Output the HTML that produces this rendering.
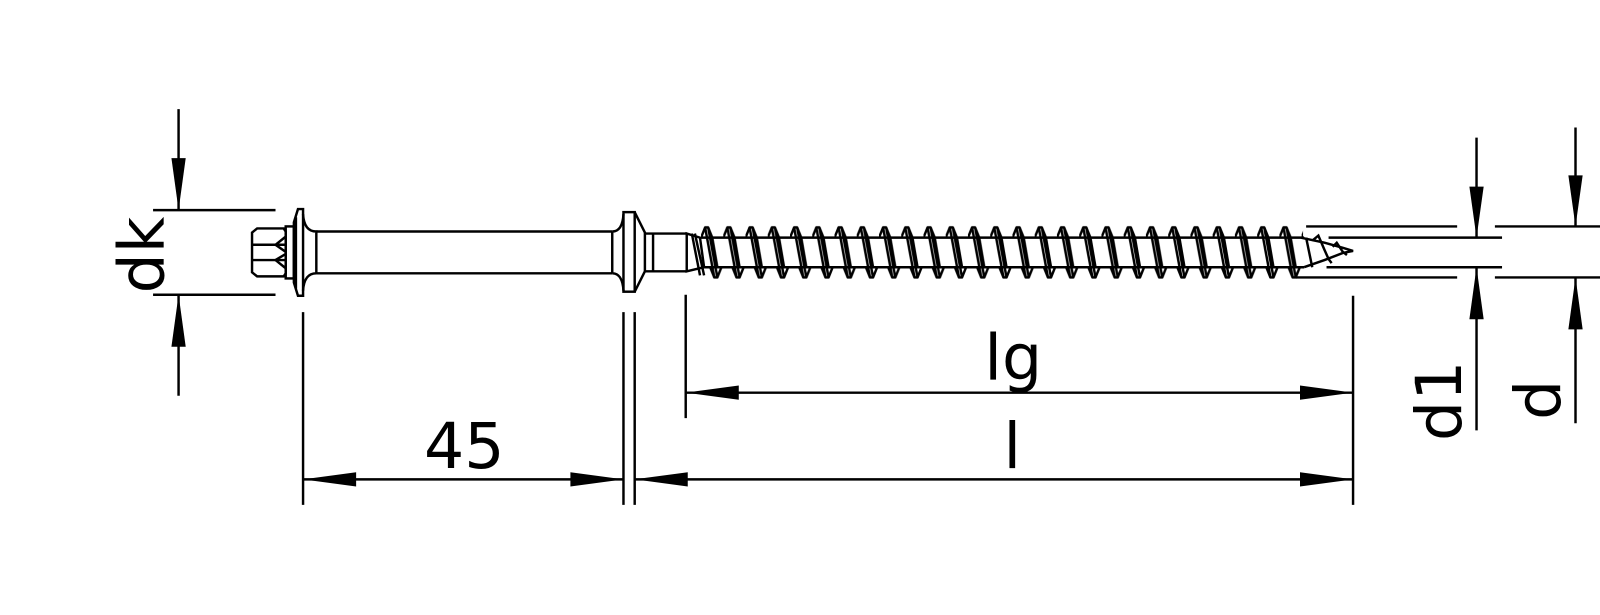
<!DOCTYPE html>
<html><head><meta charset="utf-8"><style>
html,body{margin:0;padding:0;background:#fff;width:1600px;height:615px;overflow:hidden;}
svg{display:block;position:absolute;left:0;top:0;}
text{font-family:"DejaVu Sans","Liberation Sans",sans-serif;fill:#000;}
</style></head><body>
<svg width="1600" height="615" viewBox="0 0 1568 603" preserveAspectRatio="none" xmlns="http://www.w3.org/2000/svg">
<defs>
<pattern id="thr" x="687" y="0" width="21.8" height="615" patternUnits="userSpaceOnUse">
<g fill="none" stroke="#000" stroke-width="2.4" stroke-linejoin="round">
<path d="M0,233 L4,223 L7,223 L11,233"/>
<path d="M9,262 L13,272 L16,272 L20,262"/>
<path d="M4,223 L13,272"/>
<path d="M7,223 L16,272"/>
<path d="M11,233 L16,262"/>
</g>
</pattern>
</defs>
<g stroke="#000" stroke-width="2.4" fill="none">
<line x1="150" y1="206" x2="270" y2="206"/>
<line x1="150" y1="289" x2="270" y2="289"/>
<line x1="175" y1="107" x2="175" y2="206"/>
<line x1="175" y1="289" x2="175" y2="388"/>
<path d="M252,224 L278,224 L280,227 L280,268 L278,271 L252,271 L247,267 L247,228 Z"/>
<line x1="247" y1="240" x2="280" y2="240"/>
<line x1="247" y1="255" x2="280" y2="255"/>
<path d="M280,232 L270,240 L280,247"/>
<path d="M280,249 L270,255 L280,263"/>
<rect x="280" y="222" width="8" height="51"/>
<path d="M288,218 L292,205 L297,205 L297,290 L292,290 L288,277 Z"/>
<line x1="290" y1="213" x2="290" y2="283"/>
<path d="M297,210 Q298,227 310,227 L310,268 Q298,268 297,285"/>
<line x1="310" y1="227" x2="600" y2="227"/>
<line x1="310" y1="268" x2="600" y2="268"/>
<line x1="600" y1="227" x2="600" y2="268"/>
<path d="M600,227 Q610,227 611,210 M600,268 Q610,268 611,285"/>
<rect x="611" y="208" width="11" height="78"/>
<path d="M622,208 L632,228 L632,266 L622,286"/>
<line x1="640" y1="229" x2="640" y2="266"/>
<path d="M632,229 L673,229 M632,266 L673,266"/>
<path d="M673,229 L686,233 L690,262 L673,266 Z"/>
<line x1="678" y1="229" x2="686" y2="270"/>
<line x1="681" y1="229" x2="690" y2="270"/>
<line x1="687" y1="233" x2="1278" y2="233"/>
<line x1="687" y1="262" x2="1278" y2="262"/>
<path d="M1275,233 L1298,238 L1316,243 L1326,246 L1316,248 L1298,255 L1278,262"/>
<path d="M1286,236 L1292,231 L1298,245 L1302,254 L1305,258"/>
<path d="M1306,242 L1310,238 L1316,247 L1320,250"/>
<path d="M1280,233 L1286,262"/>
<line x1="297" y1="306" x2="297" y2="495"/>
<line x1="611" y1="306" x2="611" y2="495"/>
<line x1="622" y1="306" x2="622" y2="495"/>
<line x1="672" y1="289" x2="672" y2="410"/>
<line x1="1326" y1="290" x2="1326" y2="495"/>
<line x1="297" y1="470" x2="611" y2="470"/>
<line x1="622" y1="470" x2="1326" y2="470"/>
<line x1="672" y1="385" x2="1326" y2="385"/>
<line x1="1280" y1="222" x2="1428" y2="222"/>
<line x1="1270" y1="272" x2="1428" y2="272"/>
<line x1="1302" y1="233" x2="1472" y2="233"/>
<line x1="1300" y1="262" x2="1472" y2="262"/>
<line x1="1465" y1="222" x2="1600" y2="222"/>
<line x1="1465" y1="272" x2="1600" y2="272"/>
<line x1="1447" y1="135" x2="1447" y2="233"/>
<line x1="1447" y1="262" x2="1447" y2="422"/>
<line x1="1544" y1="125" x2="1544" y2="222"/>
<line x1="1544" y1="272" x2="1544" y2="415"/>
</g>
<rect x="687" y="215" width="590" height="65" fill="url(#thr)"/>
<g fill="#000">
<polygon points="175,206 168,155 182,155"/>
<polygon points="175,289 168,340 182,340"/>
<polygon points="297,470 349,463 349,477"/>
<polygon points="611,470 559,463 559,477"/>
<polygon points="622,470 674,463 674,477"/>
<polygon points="1326,470 1274,463 1274,477"/>
<polygon points="672,385 724,378 724,392"/>
<polygon points="1326,385 1274,378 1274,392"/>
<polygon points="1447,233 1440,183 1454,183"/>
<polygon points="1447,262 1440,313 1454,313"/>
<polygon points="1544,222 1537,172 1551,172"/>
<polygon points="1544,272 1537,323 1551,323"/>
</g>
<text x="455" y="459" font-size="62" text-anchor="middle">45</text>
<text x="992" y="459" font-size="62" text-anchor="middle">l</text>
<text x="993" y="372" font-size="62" text-anchor="middle">lg</text>
<text transform="translate(160,250) rotate(-90)" font-size="62" text-anchor="middle">dk</text>
<text transform="translate(1432,393) rotate(-90)" font-size="62" text-anchor="middle">d1</text>
<text transform="translate(1529,392) rotate(-90)" font-size="62" text-anchor="middle">d</text>
</svg>
</body></html>
